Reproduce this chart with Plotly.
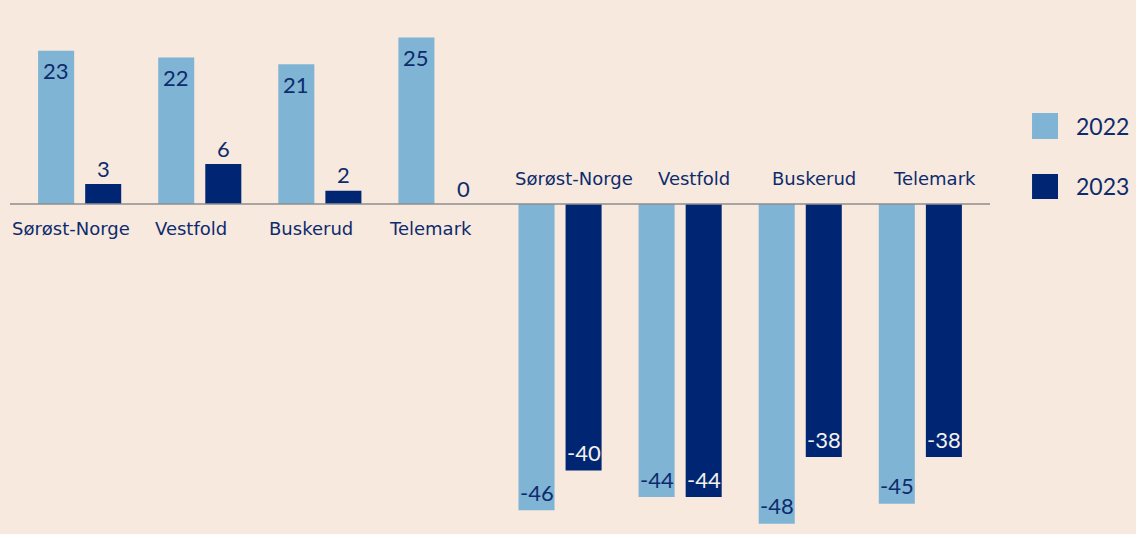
import plotly.graph_objects as go

categories = ["Sørøst-Norge", "Vestfold", "Buskerud", "Telemark",
              "Sørøst-Norge", "Vestfold", "Buskerud", "Telemark"]
series_names = ["2022", "2023"]
values_2022 = [23, 22, 21, 25, -46, -44, -48, -45]
values_2023 = [3, 6, 2, 0, -40, -44, -38, -38]

BG = "#f7e9de"
LIGHT = "#7fb4d4"
DARK = "#002673"
NAVY = "#0e2b6d"
FONT = "Lato"
CAT_FONT = "DejaVu Sans"

x = list(range(len(categories)))
BAR_W = 0.3
OFF = [-0.346, 0.046]

fig = go.Figure()
for name, vals, col, off in [(series_names[0], values_2022, LIGHT, OFF[0]),
                             (series_names[1], values_2023, DARK, OFF[1])]:
    fig.add_trace(go.Bar(x=x, y=vals, name=name, marker_color=col,
                         marker_line_width=0, width=BAR_W, offset=off,
                         showlegend=False, hoverinfo="skip"))

annotations = []
# value labels
for vals, off, inside_col in [(values_2022, OFF[0], NAVY), (values_2023, OFF[1], "#f4f1ee")]:
    is_2022 = vals is values_2022
    for i, v in enumerate(vals):
        cx = i + off + BAR_W / 2
        if v > 0 and is_2022:
            ys, col = -20, NAVY
        elif v >= 0:
            ys, col = 16, NAVY
        else:
            ys, col = 18, inside_col
        annotations.append(dict(x=cx, y=v, xref="x", yref="y", text=str(v),
                                showarrow=False, yshift=ys, yanchor="middle",
                                font=dict(family=FONT, size=22, color=col)))
# category labels
for i, c in enumerate(categories):
    below = values_2022[i] > 0
    annotations.append(dict(x=i, y=0, xref="x", yref="y", text=c, showarrow=False,
                            yshift=-24 if below else 26, xshift=-9 if below else 14,
                            yanchor="middle",
                            font=dict(family=CAT_FONT, size=18, color=NAVY)))

# manual legend (large squares)
shapes = [dict(type="line", xref="paper", yref="y", x0=0, x1=1, y0=0, y1=0,
               line=dict(color="#8c8c8c", width=1.5), layer="above")]
leg_y = [(0.834, 0.782), (0.712, 0.662)]
for (y1, y0), col, name in zip(leg_y, [LIGHT, DARK], series_names):
    shapes.append(dict(type="rect", xref="paper", yref="paper",
                       x0=1.0429, x1=1.0694, y0=y0, y1=y1,
                       fillcolor=col, line=dict(width=0)))
    annotations.append(dict(x=1.0857, y=(y0 + y1) / 2, xref="paper", yref="paper",
                            text=name, showarrow=False, xanchor="left", yanchor="middle",
                            font=dict(family=FONT, size=23, color=NAVY)))

fig.update_layout(
    width=1136, height=534,
    margin=dict(l=10, r=146, t=30, b=4),
    paper_bgcolor=BG, plot_bgcolor=BG,
    xaxis=dict(range=[-0.58, 7.58], visible=False, fixedrange=True),
    yaxis=dict(range=[-48.95, 26.13], visible=False, fixedrange=True),
    shapes=shapes, annotations=annotations,
    showlegend=False,
)

fig.write_html("out.html",
               config={"displayModeBar": False, "staticPlot": True},
               post_script="document.body.style.margin='0';document.body.style.padding='0';"
                           "document.body.style.overflow='hidden';"
                           "document.documentElement.style.background='%s';" % BG)
